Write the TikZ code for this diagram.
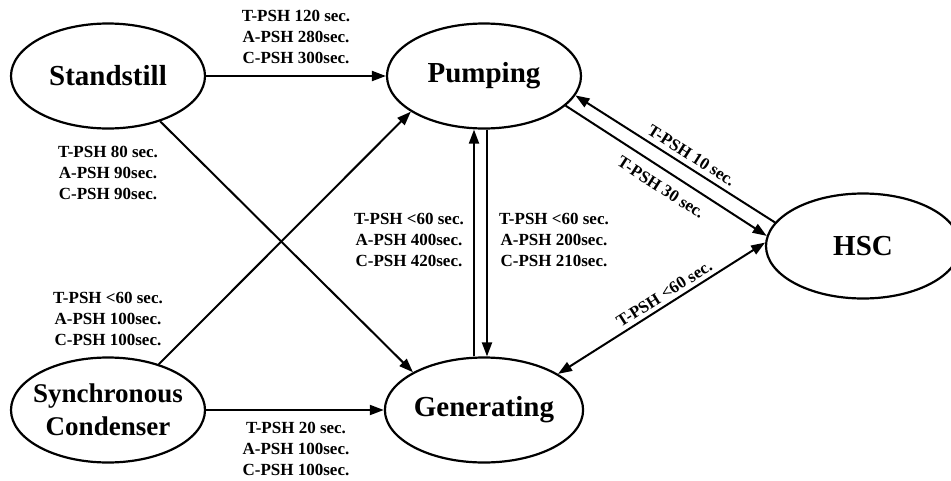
\documentclass[tikz,border=0pt]{standalone}
\usepackage{fontspec}
\setmainfont{Liberation Serif}
\usetikzlibrary{shapes.geometric,arrows.meta}
\begin{document}
\begin{tikzpicture}[x=1pt,y=-1pt,
  state/.style={ellipse, draw, line width=2.2pt, minimum width=194pt,
    minimum height=105pt, inner sep=0pt, align=center,
    font=\fontsize{29}{33}\selectfont\bfseries},
  tip/.tip={Triangle[length=14pt,width=10pt]},
  trans/.style={line width=2pt, -tip},
  both/.style={line width=2pt, tip-tip},
  lbl/.style={font=\fontsize{17}{21}\selectfont\bfseries, align=center, inner sep=2pt}]
\useasboundingbox (0,0) rectangle (951,480);

% operating states
\node[state] (stand) at (108,76)  {Standstill};
\node[state] (pump)  at (484,76)  {Pumping};
\node[state] (gen)   at (484,410) {Generating};
\node[state, inner xsep=-12pt, inner ysep=-4pt,
      font=\fontsize{27}{33}\selectfont\bfseries] (sync) at (108,410) {Synchronous\\Condenser};
\node[state] (hsc)   at (863,246) {HSC};

% transitions
\draw[trans] (stand.east) -- (pump.west);
\draw[trans] (sync.east) -- (gen.west);
\draw[trans] (stand.-41.5) -- (gen.152.8);
\draw[trans] (sync.42) -- (pump.206.3);
\draw[trans] ([xshift=-10pt]gen.north) -- ([xshift=-10pt]pump.south);
\draw[trans] ([xshift=3pt]pump.south) -- ([xshift=3pt]gen.north);
\draw[trans] (hsc.165) -- node[lbl, sloped, above=3pt, pos=0.45] {T-PSH 10 sec.} (pump.-12.7);
\draw[trans] (pump.-20.5) -- node[lbl, sloped, below=8pt, pos=0.52] {T-PSH 30 sec.} (hsc.174);
\draw[both] (gen.26) -- node[lbl, sloped, above=2pt, pos=0.54] {T-PSH <60 sec.} (hsc.178);

% transition times
\node[lbl] (t1) at (296,37)  {T-PSH 120 sec.\\A-PSH 280sec.\\C-PSH 300sec.};
\node[lbl] (t2) at (108,173) {T-PSH 80 sec.\\A-PSH 90sec.\\C-PSH 90sec.};
\node[lbl] (t3) at (108,319) {T-PSH <60 sec.\\A-PSH 100sec.\\C-PSH 100sec.};
\node[lbl] (t4) at (296,449) {T-PSH 20 sec.\\A-PSH 100sec.\\C-PSH 100sec.};
\node[lbl] (t5) at (409,240) {T-PSH <60 sec.\\A-PSH 400sec.\\C-PSH 420sec.};
\node[lbl] (t6) at (554,240) {T-PSH <60 sec.\\A-PSH 200sec.\\C-PSH 210sec.};
\end{tikzpicture}
\end{document}
